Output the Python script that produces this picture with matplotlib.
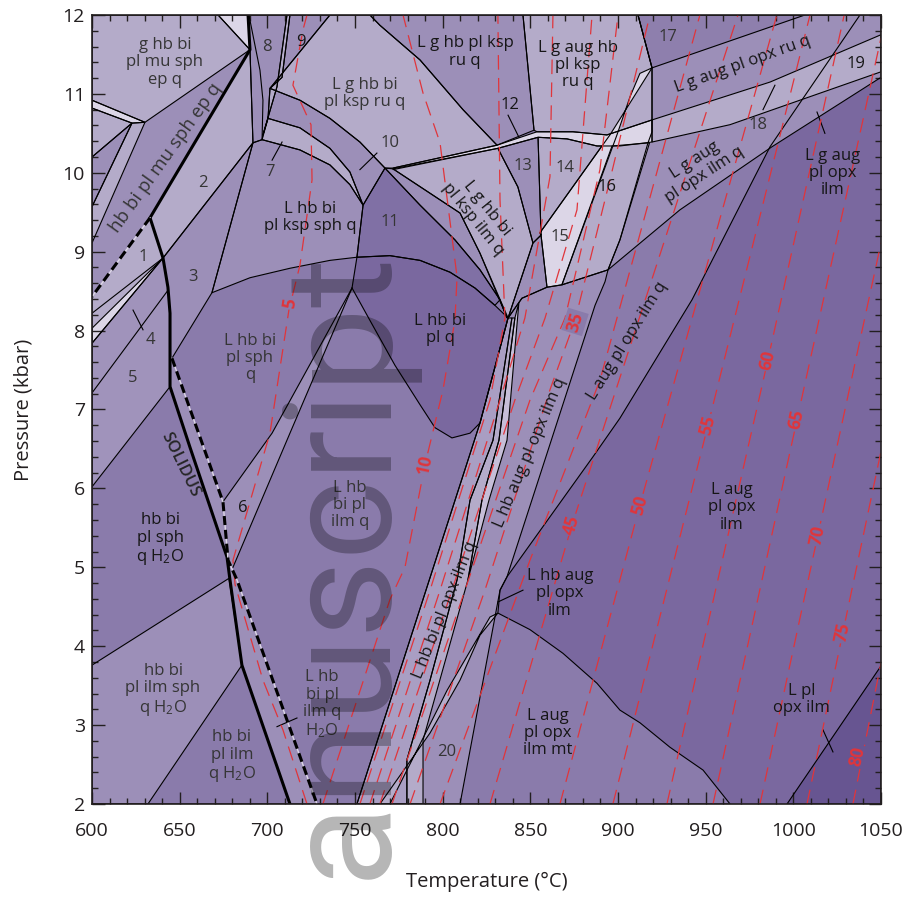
import matplotlib
matplotlib.use("Agg")
import matplotlib.pyplot as plt
from matplotlib.ticker import MultipleLocator

plt.rcParams["font.family"] = ["Open Sans", "DejaVu Sans"]
plt.rcParams["mathtext.fontset"] = "custom"
plt.rcParams["mathtext.rm"] = "Open Sans"
plt.rcParams["mathtext.it"] = "Open Sans:italic"
plt.rcParams["lines.scale_dashes"] = False

# fill shades, lightest to darkest
WHITE = "#dcd6e7"
LIGHT = "#b4abc9"
PALE = "#a99ec3"
MEDL = "#9c8fb8"
MED = "#8a7bab"
MEDD = "#8070a5"
DARK = "#7a689f"
DARKEST = "#675591"
ISO_RED = "#e0353b"
INK = "#161616"
GREY = "#353535"
FRAME = "#231f20"

# ---- field polygons, vertices as (T degC, P kbar) ----
LEFT_MELT = [(600, 12), (1038, 12), (986.7, 10.33), (942.2, 8.39), (901.1, 6.89),
             (885.7, 6.40), (836.7, 4.88), (832.7, 4.71), (831.5, 4.42), (849.8, 4.21),
             (868.6, 3.91), (888.0, 3.53), (901.1, 3.19), (912.5, 3.03), (929.6, 2.72),
             (948.5, 2.43), (963.9, 2.0), (600, 2.0)]
UPPER_RIGHT = [(911.4, 12), (1050, 12), (1050, 11.21), (987.8, 10.33), (935.3, 9.53),
               (894.3, 8.77), (901.1, 9.15), (917.1, 10.38), (919.4, 10.52), (919.4, 11.33)]
FIELD_17 = [(911.4, 12), (1006.6, 12), (919.4, 11.33)]
CORNER = [(996.4, 2.0), (1050, 3.75), (1050, 2.0)]

GHB_EP = [(600, 12), (671.9, 12), (690.1, 11.56), (630.2, 10.64), (600, 10.92)]
TOP_SLIVER = [(671.9, 12), (689.0, 12), (690.1, 11.56)]
LEFT_SLIVER = [(600, 10.92), (630.2, 10.64), (622.8, 10.63), (600, 10.82)]
HB_EP_BAND = [(690.1, 11.56), (630.2, 10.64), (600, 9.11), (600, 8.43), (633.1, 9.43)]
STRIP_A = [(600, 10.82), (622.8, 10.63), (600, 10.20)]
STRIP_B = [(600, 10.20), (622.8, 10.63), (600, 9.57)]
STRIP_C = [(600, 9.57), (622.8, 10.63), (630.2, 10.64), (600, 9.11)]
FIELD_2 = [(690.1, 11.56), (691.8, 10.38), (640.5, 8.92), (633.1, 9.43)]
FIELD_1 = [(633.1, 9.43), (640.5, 8.92), (600, 8.03), (600, 8.43)]
SLIVER_4 = [(640.5, 8.92), (600, 7.84), (600, 8.03)]
FIELD_3 = [(640.5, 8.92), (691.8, 10.38), (668.4, 8.48), (645.6, 7.65), (644.5, 7.65),
           (644.5, 8.22), (643.3, 8.55)]
FIELD_45 = [(640.5, 8.92), (643.3, 8.55), (644.5, 8.22), (644.5, 7.29), (600, 6.02), (600, 7.84)]
SOLIDUS_STRIP = [(645.6, 7.65), (674.7, 5.83), (677.6, 5.09), (682.7, 4.84), (728.3, 2.0),
                 (712.9, 2.0), (685.5, 3.76), (678.7, 4.84), (677.0, 5.13), (655.9, 6.52),
                 (644.5, 7.29), (644.5, 7.65)]
ILM_SPH_H2O = [(600, 3.76), (678.1, 4.86), (685.5, 3.76), (631.9, 2.0), (600, 2.0)]
FIELD_6 = [(748.3, 8.54), (702.7, 6.70), (674.7, 5.83), (677.6, 5.09), (680.4, 5.00), (712.9, 6.70)]

KSP_SPH = [(691.8, 10.38), (697.0, 10.42), (718.6, 10.29), (735.7, 10.10), (747.1, 9.85),
           (754.6, 9.59), (751.1, 8.93), (735.7, 8.89), (712.9, 8.79), (690.1, 8.67), (668.4, 8.48)]
BAND_10 = [(701.5, 11.07), (718.6, 10.92), (735.7, 10.69), (752.8, 10.39), (767.1, 10.06),
           (754.6, 9.59), (747.1, 10.01), (735.7, 10.31), (718.6, 10.57), (700.4, 10.69)]
STRIP_7 = [(700.4, 10.69), (718.6, 10.57), (735.7, 10.31), (747.1, 10.01), (754.6, 9.59),
           (747.1, 9.85), (735.7, 10.10), (718.6, 10.29), (697.0, 10.42)]
FIELD_8 = [(689.0, 12), (711.2, 12), (705.5, 11.09), (697.5, 10.48), (697.0, 10.42),
           (691.8, 10.38), (690.1, 11.56)]
STRIP_89 = [(711.2, 12), (712.9, 12), (708.4, 11.21), (701.5, 11.07), (700.4, 10.69),
            (697.5, 10.48), (705.5, 11.09)]
FIELD_9 = [(712.9, 12), (735.7, 12), (701.5, 11.07), (708.4, 11.21)]
KSP_RU = [(735.7, 12), (758.5, 12), (764.2, 11.87), (787.1, 11.43), (811.6, 10.80),
          (831.0, 10.35), (771.7, 10.06), (767.1, 10.06), (752.8, 10.39), (735.7, 10.69),
          (718.6, 10.92), (701.5, 11.07)]
G_KSP_RU = [(758.5, 12), (845.8, 12), (852.1, 10.54), (831.0, 10.35), (811.6, 10.80),
            (787.1, 11.43), (764.2, 11.87)]
FIELD_11 = [(754.6, 9.59), (767.1, 10.06), (787.1, 9.59), (807.0, 9.15), (821.3, 8.77),
            (832.7, 8.39), (829.8, 8.32), (818.4, 8.54), (804.2, 8.74), (787.1, 8.89),
            (769.9, 8.95), (751.1, 8.93)]
BAND_11 = [(767.1, 10.06), (771.7, 10.05), (809.9, 9.49), (821.3, 8.98), (836.7, 8.16),
           (832.7, 8.39), (821.3, 8.77), (807.0, 9.15), (787.1, 9.59)]
KSP_ILM = [(771.7, 10.05), (831.5, 10.31), (842.9, 9.82), (851.5, 9.11), (837.3, 8.16),
           (821.3, 8.98), (809.9, 9.49)]
HB_BI_PL_Q = [(751.1, 8.93), (769.9, 8.95), (787.1, 8.89), (804.2, 8.74), (818.4, 8.54),
              (829.8, 8.32), (837.3, 8.16), (821.3, 6.83), (815.6, 6.70), (805.3, 6.64),
              (795.6, 6.77), (787.1, 7.06), (772.8, 7.56), (758.5, 8.13), (748.3, 8.54)]
FIELD_13 = [(831.5, 10.31), (854.4, 10.45), (856.1, 9.21), (851.5, 9.11), (842.9, 9.82)]
FIELD_14 = [(854.4, 10.45), (870.9, 10.43), (888.0, 10.34), (890.8, 10.34), (855.5, 9.24),
            (856.1, 9.21)]
TRI_15 = [(851.5, 9.11), (856.1, 9.21), (859.5, 8.55), (845.2, 8.41), (837.3, 8.16)]
AUG_KSP_RU = [(845.8, 12), (911.4, 12), (919.4, 11.33), (919.4, 10.67), (893.7, 10.48),
              (874.3, 10.52), (853.8, 10.52), (852.1, 10.54)]
FIELD_16 = [(868.0, 8.58), (896.6, 10.34), (918.0, 10.38), (901.1, 9.15), (894.3, 8.77)]

FAN = [(837.3, 8.16), (845.2, 8.41), (859.5, 8.55), (868.0, 8.58), (894.3, 8.77),
       (892.6, 8.62), (886.9, 8.32), (836.7, 4.88), (832.7, 4.71), (809.9, 2.0),
       (751.1, 2.0), (821.3, 6.83)]
BAND_F12 = [(837.3, 8.16), (839.5, 8.16), (828.7, 6.61), (815.6, 5.85), (808.2, 4.84),
            (792.8, 3.57), (779.6, 2.56), (779.6, 2.0), (751.1, 2.0), (821.3, 6.83)]
BAND_F23 = [(839.5, 8.16), (841.2, 8.16), (832.1, 6.61), (822.4, 5.85), (814.4, 4.84),
            (788.8, 2.81), (788.8, 2.0), (779.6, 2.0), (779.6, 2.56), (792.8, 3.57),
            (808.2, 4.84), (815.6, 5.85), (828.7, 6.61)]
BAND_F34 = [(841.2, 8.16), (843.5, 8.36), (836.7, 6.61), (826.4, 5.85), (814.4, 4.84),
            (822.4, 5.85), (832.1, 6.61)]
CURVE_STRIP = [(764.2, 2.0), (792.8, 2.90), (809.9, 3.57), (821.3, 4.14), (831.5, 4.42),
               (827.0, 4.37), (802.5, 3.44), (769.9, 2.0)]
BAND_J = [(771.7, 10.06), (831.0, 10.35), (853.8, 10.52), (874.3, 10.52), (893.7, 10.48),
          (919.4, 10.67), (919.4, 10.39), (901.1, 10.34), (888.0, 10.34), (870.9, 10.43),
          (854.4, 10.45), (831.5, 10.31), (771.7, 10.04)]
BAND_18 = [(919.4, 10.67), (986.7, 11.15), (1050, 11.75), (1050, 11.28), (963.9, 10.61),
           (919.4, 10.39)]
FIELD_15 = [(856.1, 9.21), (855.5, 9.24), (895.4, 10.48), (919.4, 11.33), (912.5, 11.26),
            (906.8, 10.96), (899.4, 10.48), (868.0, 8.58), (859.5, 8.55)]

# (polygon, fill, draw outline)
FIELDS = [
    (LEFT_MELT, MED, True), (UPPER_RIGHT, MEDL, True), (FIELD_17, "#8e7fad", True),
    (CORNER, DARKEST, True),
    (GHB_EP, LIGHT, True), (TOP_SLIVER, WHITE, True), (LEFT_SLIVER, WHITE, True),
    (HB_EP_BAND, MEDL, False), (STRIP_A, LIGHT, True), (STRIP_B, MEDL, True),
    (STRIP_C, LIGHT, True), (FIELD_2, LIGHT, True), (FIELD_1, LIGHT, False),
    (SLIVER_4, WHITE, True), (FIELD_3, MEDL, True), (FIELD_45, "#a093bb", True),
    (SOLIDUS_STRIP, MEDL, False), (ILM_SPH_H2O, MEDL, True), (FIELD_6, MEDL, False),
    (KSP_SPH, MEDL, True), (BAND_10, MEDL, True), (STRIP_7, LIGHT, True),
    (FIELD_8, MEDL, True), (STRIP_89, LIGHT, True), (FIELD_9, MEDL, True),
    (KSP_RU, LIGHT, True), (G_KSP_RU, MEDL, True),
    (FIELD_11, MEDD, True), (BAND_11, MEDL, True), (KSP_ILM, LIGHT, True),
    (HB_BI_PL_Q, DARK, True), (FIELD_13, MEDL, True), (FIELD_14, LIGHT, True),
    (TRI_15, MEDL, True), (AUG_KSP_RU, LIGHT, True), (FIELD_16, LIGHT, True),
    (FAN, MEDL, True), (BAND_F12, PALE, True), (BAND_F23, LIGHT, True),
    (BAND_F34, "#c6bed8", True), (CURVE_STRIP, LIGHT, True),
    (BAND_J, WHITE, True), (BAND_18, LIGHT, True), (FIELD_15, WHITE, True),
]

# ---- boundary lines not covered by polygon outlines ----
SOLIDUS = [(689.0, 12), (690.1, 11.56), (633.1, 9.43), (640.5, 8.92), (643.3, 8.55),
           (644.5, 8.22), (644.5, 7.29), (655.9, 6.52), (677.0, 5.13), (678.7, 4.84),
           (685.5, 3.76), (712.9, 2.0)]
DASHED_UPPER = [(633.1, 9.43), (600, 8.43)]
DASHED_LOWER = [(645.6, 7.65), (674.7, 5.83), (677.6, 5.09), (682.7, 4.84), (728.3, 2.0)]
LINE_F = [(689.5, 12), (695.8, 11.30), (697.5, 10.92), (697.0, 10.42)]
LINE_45 = [(600, 7.21), (643.3, 8.51)]
LINE_1 = [(600, 8.22), (640.5, 8.92)]
LINE_LA = [(748.3, 8.54), (702.7, 6.70), (674.7, 5.83)]
LINE_LB = [(748.3, 8.54), (712.9, 6.70), (680.4, 5.00)]
# short leader ticks from labels into narrow fields
LEADERS = [
    [(623.4, 8.26), (629.1, 8.01)],
    [(702.7, 10.16), (708.4, 10.39)],
    [(752.8, 10.04), (762.5, 10.25)],
    [(837.3, 10.73), (843.5, 10.45)],
    [(982.7, 10.80), (989.5, 11.11)],
    [(1013.5, 10.77), (1018.0, 10.50)],
    [(705.5, 2.98), (716.9, 3.09)],
    [(845.8, 4.71), (831.5, 4.56)],
    [(1016.9, 2.94), (1022.6, 2.66)],
]
THIN_LINES = [LINE_F, LINE_45, LINE_1, LINE_LA, LINE_LB] + LEADERS

# ---- melt isopleths (vol. %) ----
ISO_5 = [(722.6, 2.0), (708.9, 2.94), (697.5, 3.57), (681.6, 4.78), (680.4, 5.09),
         (701.5, 6.70), (712.3, 8.26), (718.6, 8.83), (725.5, 9.91), (724.9, 10.61),
         (714.6, 11.11), (720.3, 11.81), (722.6, 12.0)]
ISO_10 = [(731.7, 2.0), (769.9, 4.59), (778.5, 5.00), (789.9, 6.30), (800.2, 7.25),
          (807.0, 8.13), (808.2, 8.68), (798.5, 10.38), (788.8, 11.01), (777.4, 12.0)]
ISO_15 = [(752.8, 2.0), (792.8, 4.71), (827.0, 7.12), (835.5, 8.16), (832.7, 9.66), (831.5, 12)]
ISO_20 = [(758.5, 2.0), (798.5, 4.71), (832.7, 7.12), (846.9, 8.16), (861.2, 9.95), (862.9, 12)]
ISO_25 = [(764.2, 2.0), (805.3, 4.71), (841.2, 7.12), (858.4, 8.16), (876.6, 9.53), (885.2, 12)]
ISO_30 = [(771.1, 2.0), (812.7, 4.71), (849.8, 7.12), (869.8, 8.16), (889.7, 10.04), (900.0, 12)]
ISO_35 = [(781.4, 2.0), (824.1, 4.71), (861.2, 7.25), (875.5, 8.13), (895.4, 9.91), (918.2, 12)]
ISO_40 = [(798.5, 2.0), (849.8, 5.09), (889.7, 7.37), (946.7, 12)]
ISO_45 = [(827.0, 2.0), (873.8, 5.54), (968.4, 12)]
ISO_50 = [(866.9, 2.0), (912.5, 5.79), (990.6, 12)]
ISO_55 = [(897.1, 2.0), (951.3, 6.80), (1009.5, 12)]
ISO_60 = [(927.9, 2.0), (985.5, 7.63), (1029.0, 12)]
ISO_65 = [(954.2, 2.0), (1002.1, 6.87), (1050, 11.71)]
ISO_70 = [(981.0, 2.0), (1014.0, 5.41), (1050, 9.11)]
ISO_75 = [(1007.8, 2.0), (1028.3, 4.18), (1050, 6.47)]
ISO_80 = [(1034.0, 2.0), (1050, 3.79)]
ISOPLETHS = [ISO_5, ISO_10, ISO_15, ISO_20, ISO_25, ISO_30, ISO_35, ISO_40,
             ISO_45, ISO_50, ISO_55, ISO_60, ISO_65, ISO_70, ISO_75, ISO_80]

# (value, T, P, angle, background behind the number)
ISO_LABELS = [
    ("5", 712.9, 8.35, 81, MED), ("10", 789.9, 6.30, 78, MED),
    ("35", 875.5, 8.11, 73, MED), ("45", 873.8, 5.54, 74, DARK),
    ("50", 912.5, 5.79, 75, DARK), ("55", 951.3, 6.80, 76, DARK),
    ("60", 985.5, 7.63, 77, DARK), ("65", 1002.1, 6.87, 78, DARK),
    ("70", 1014.0, 5.41, 78, DARK), ("75", 1028.3, 4.18, 78, DARK),
    ("80", 1036.9, 2.60, 78, DARKEST),
]

H2O = "H$_2$O"
FIELD_LABELS = [
    ("g hb bi\npl mu sph\nep q", 641.6, 11.40, 0, GREY, 12),
    ("hb bi pl mu sph ep q", 642.2, 10.19, 54.5, GREY, 13.5),
    ("2", 663.3, 9.87, 0, GREY, 12), ("1", 629.1, 8.93, 0, GREY, 12),
    ("3", 657.6, 8.68, 0, GREY, 12), ("4", 633.1, 7.88, 0, GREY, 12),
    ("5", 623.4, 7.40, 0, GREY, 12),
    ("hb bi\npl sph\nq " + H2O, 638.8, 5.35, 0, INK, 12),
    ("hb bi\npl ilm sph\nq " + H2O, 640.5, 3.44, 0, GREY, 12),
    ("hb bi\npl ilm\nq " + H2O, 679.8, 2.60, 0, GREY, 12),
    ("L hb bi\npl sph\nq", 690.1, 7.65, 0, GREY, 12),
    ("6", 686.1, 5.75, 0, INK, 12),
    ("L hb\nbi pl\nilm q", 747.1, 5.79, 0, GREY, 12),
    ("L hb\nbi pl\nilm q\n" + H2O, 731.2, 3.26, 0, GREY, 12),
    ("L hb bi\npl ksp sph q", 724.3, 9.43, 0, INK, 12),
    ("7", 701.5, 10.01, 0, GREY, 12), ("8", 699.8, 11.59, 0, GREY, 12),
    ("9", 719.2, 11.66, 0, INK, 12),
    ("L g hb bi\npl ksp ru q", 755.7, 11.01, 0, GREY, 12),
    ("10", 770.0, 10.38, 0, GREY, 12), ("11", 770.0, 9.38, 0, GREY, 12),
    ("L hb bi\npl q", 798.5, 8.01, 0, INK, 12),
    ("L g hb pl ksp\nru q", 812.7, 11.53, 0, INK, 12),
    ("12", 838.4, 10.86, 0, INK, 12),
    ("L g hb bi\npl ksp ilm q", 821.3, 9.48, -51, INK, 12),
    ("13", 845.8, 10.08, 0, GREY, 12), ("14", 869.8, 10.06, 0, GREY, 12),
    ("15", 866.9, 9.19, 0, GREY, 12), ("16", 893.7, 9.82, 0, INK, 12),
    ("L g aug hb\npl ksp\nru q", 877.2, 11.37, 0, INK, 12),
    ("17", 928.5, 11.72, 0, GREY, 12),
    ("L g aug pl opx ru q", 971.3, 11.37, 19.7, INK, 12),
    ("18", 979.8, 10.61, 0, GREY, 12), ("19", 1035.7, 11.38, 0, INK, 12),
    ("L g aug\npl opx ilm q", 946.7, 10.07, 33, INK, 12),
    ("L g aug\npl opx\nilm", 1022.6, 10.00, 0, INK, 12),
    ("L aug pl opx ilm q", 905.1, 7.87, 58, INK, 12),
    ("L hb aug pl opx ilm q", 849.8, 6.45, 67, INK, 12),
    ("L hb bi pl opx ilm q", 801.3, 4.46, 68, INK, 12),
    ("L hb aug\npl opx\nilm", 866.9, 4.67, 0, INK, 12),
    ("L aug\npl opx\nilm mt", 860.1, 2.90, 0, INK, 12),
    ("20", 802.5, 2.66, 0, GREY, 12),
    ("L aug\npl opx\nilm", 965.0, 5.76, 0, INK, 12),
    ("L pl\nopx ilm", 1004.9, 3.32, 0, INK, 12),
]


def xy(points):
    t, p = zip(*points)
    return list(t), list(p)


fig = plt.figure(figsize=(9.08, 8.98), dpi=100)
ax = fig.add_axes([92 / 908, 94 / 898, 789 / 908, 789 / 898])
ax.set_facecolor(DARK)

for verts, colour, _ in FIELDS:
    t, p = xy(verts)
    ax.fill(t, p, fc=colour, ec=colour, lw=0.3, zorder=1)
for verts, _, outline in FIELDS:
    if outline:
        t, p = xy(verts)
        ax.fill(t, p, fill=False, ec="black", lw=0.8, zorder=3)

for line in THIN_LINES:
    ax.plot(*xy(line), color="black", lw=0.8, zorder=3)

for iso in ISOPLETHS:
    ax.plot(*xy(iso), color=ISO_RED, lw=0.9, ls=(0, (10.5, 6)), zorder=4)

ax.plot(*xy(SOLIDUS), color="black", lw=2.2, zorder=5, solid_joinstyle="round")
for line in (DASHED_UPPER, DASHED_LOWER):
    ax.plot(*xy(line), color="#ddd7e6", lw=1.0, zorder=5)
    ax.plot(*xy(line), color="black", lw=2.2, ls=(0, (6.5, 3.5)), zorder=5)

for txt, t, p, rot, bg in ISO_LABELS:
    ax.text(t, p, txt, rotation=rot, rotation_mode="anchor", ha="center", va="center",
            color=ISO_RED, fontsize=12.5, fontweight="bold", zorder=6,
            bbox=dict(boxstyle="square,pad=0.1", fc=bg, ec="none"))

for txt, t, p, rot, col, size in FIELD_LABELS:
    ax.text(t, p, txt, rotation=rot, rotation_mode="anchor", ha="center", va="center",
            multialignment="center", linespacing=1.1, color=col, fontsize=size, zorder=6)

ax.text(650.2, 6.30, "SOLIDUS", rotation=-64, rotation_mode="anchor", ha="center",
        va="center", color="#262626", fontsize=12, fontweight="semibold", zorder=6)

ax.set_xlim(600, 1050)
ax.set_ylim(2, 12)
ax.xaxis.set_major_locator(MultipleLocator(50))
ax.xaxis.set_minor_locator(MultipleLocator(10))
ax.yaxis.set_major_locator(MultipleLocator(1))
ax.yaxis.set_minor_locator(MultipleLocator(0.2))
ax.tick_params(which="both", direction="in", top=True, right=True, width=1.0,
               color=FRAME, labelcolor=FRAME, labelsize=14)
ax.tick_params(which="major", length=9)
ax.tick_params(which="minor", length=4.5)
ax.tick_params(axis="x", which="major", pad=13)
ax.tick_params(axis="y", which="major", pad=5)
for spine in ax.spines.values():
    spine.set_linewidth(1.2)
    spine.set_color(FRAME)
    spine.set_zorder(7)

ax.set_xlabel("Temperature (°C)", fontsize=14.5, color=FRAME, labelpad=23)
ax.set_ylabel("Pressure (kbar)", fontsize=14.5, color=FRAME, labelpad=21)

fig.text(392 / 908, 1 - 257 / 898, "Accepted Manuscript", rotation=90,
         rotation_mode="anchor", ha="right", va="baseline", fontsize=109,
         family=["Roboto", "DejaVu Sans"], color="black", alpha=0.29, zorder=10)

fig.savefig("out.png", dpi=100)
